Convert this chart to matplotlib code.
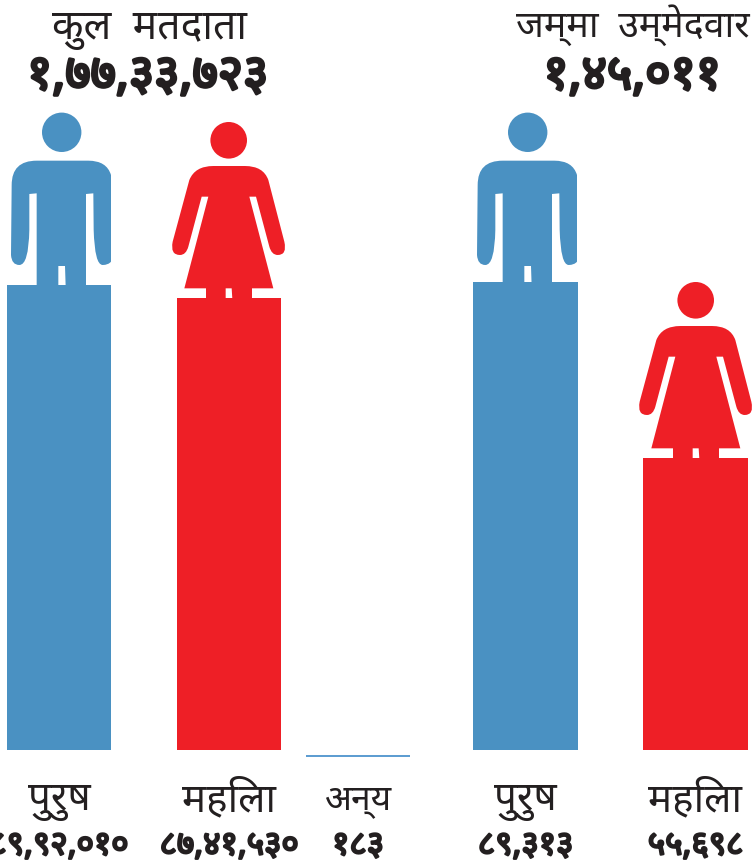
import matplotlib
matplotlib.use("Agg")
import matplotlib.pyplot as plt
import matplotlib.patheffects as pe
from matplotlib.patches import PathPatch, Circle
from matplotlib.path import Path

plt.rcParams['font.family'] = ['Noto Sans', 'DejaVu Sans']

# data
voter_labels = ["पुरुष", "महिला", "अन्य"]
voter_values = [8992010, 8741530, 183]
voter_text = ["८९,९२,०१०", "८७,४१,५३०", "१८३"]
candidate_labels = ["पुरुष", "महिला"]
candidate_values = [89313, 55698]
candidate_text = ["८९,३१३", "५५,६९८"]
voter_title = "कुल  मतदाता"
voter_total = "१,७७,३३,७२३"
candidate_title = "जम्मा  उम्मेदवार"
candidate_total = "१,४५,०११"

BLUE = "#4A91C2"
RED = "#EE1F26"
INK = "#231F20"
W, H = 754, 867
BASE = 750

# bar centres in pixels
voter_x = [59, 229, 358]
candidate_x = [525.5, 695.5]
colors = [BLUE, RED, BLUE]

fig = plt.figure(figsize=(W / 100, H / 100), dpi=100)

# left and right groups have their own y scale
ax1 = fig.add_axes([0, (H - BASE) / H, 1, BASE / H])
ax1.set_xlim(0, W)
ax1.set_ylim(0, voter_values[0] * BASE / 465)
ax1.bar(voter_x[:2], voter_values[:2], width=104, color=colors[:2])
ax1.axis("off")
ax2 = fig.add_axes([0, (H - BASE) / H, 1, BASE / H])
ax2.set_xlim(0, W)
ax2.set_ylim(0, candidate_values[0] * BASE / 468)
ax2.bar(candidate_x, candidate_values, width=105, color=colors[:2])
ax2.axis("off")

# overlay in pixel coords for icons and text
ov = fig.add_axes([0, 0, 1, 1])
ov.set_xlim(0, W)
ov.set_ylim(H, 0)
ov.axis("off")
ov.patch.set_alpha(0)

# the third bar is only a hairline, sitting a bit under the others
scale_other = ax1.get_ylim()[1] / BASE
ax1.bar(voter_x[2], voter_values[2], bottom=-6 * scale_other, width=104,
        color=colors[2], edgecolor="#5A9BD0", linewidth=1.4, clip_on=False)

M, L, C, X = Path.MOVETO, Path.LINETO, Path.CURVE3, Path.CLOSEPOLY


def build(steps, dx, dy):
    verts, codes = [], []
    for st in steps:
        if len(st) == 2:
            verts.append(st)
            codes.append(L)
        else:
            verts += [(st[0], st[1]), (st[2], st[3])]
            codes += [C, C]
    codes[0] = M
    verts.append(verts[0])
    codes.append(X)
    return Path([(x / 3 + dx, y / 3 + dy) for x, y in verts], codes)


man = [(110, 482), (35, 482, 35, 555), (33, 765), (35, 795, 58, 795),
       (86, 795, 88, 690), (88, 582), (110, 580), (110, 860), (175, 860),
       (175, 798), (195, 798), (197, 860), (258, 860), (258, 582), (280, 580),
       (281, 690), (284, 795, 308, 795), (325, 795, 333, 785), (333, 525),
       (320, 482, 265, 482)]
woman = [(640, 498), (585, 498, 568, 540), (518, 725), (510, 765, 540, 765),
         (558, 765, 565, 740), (605, 590), (625, 590), (553, 865), (618, 865),
         (618, 897), (677, 897), (677, 865), (695, 865), (697, 897), (756, 897),
         (756, 865), (820, 865), (748, 590), (768, 590), (808, 740),
         (815, 765, 833, 765), (862, 765, 853, 725), (805, 540),
         (790, 498, 735, 498)]


def draw_man(dx, dy=0):
    ov.add_patch(PathPatch(build(man, dx, dy), fc=BLUE, ec="none"))
    ov.add_patch(Circle((61.7 + dx, 132.3 + dy), 19.7, fc=BLUE, ec="none"))


def draw_woman(dx, dy=0):
    ov.add_patch(PathPatch(build(woman, dx, dy), fc=RED, ec="none"))
    ov.add_patch(Circle((228.7 + dx, 140.3 + dy), 18.3, fc=RED, ec="none"))


def heavy(width):
    # Noto Sans has no heavy cut here, so thicken the glyphs with a stroke
    return [pe.withStroke(linewidth=width, foreground=INK)]


draw_man(0)
draw_woman(0)
draw_man(466)
draw_woman(467, 160)

ov.text(150, 29, voter_title, ha="center", va="center", fontsize=29.5, color=INK)
ov.text(147.5, 76, voter_total, ha="center", va="center", fontsize=35,
        color=INK, path_effects=heavy(2.2))
ov.text(633, 25, candidate_title, ha="center", va="center", fontsize=27, color=INK)
ov.text(632, 76, candidate_total, ha="center", va="center", fontsize=35,
        color=INK, path_effects=heavy(2.2))

for x, lab, val in zip(voter_x + candidate_x, voter_labels + candidate_labels,
                       voter_text + candidate_text):
    size = 25.5 if lab == "अन्य" else 29
    ov.text(x, 801, lab, ha="center", va="center", fontsize=size, color=INK)
    ov.text(x, 846, val, ha="center", va="center", fontsize=24, color=INK,
            path_effects=heavy(1.6))

fig.savefig("out.png", dpi=100)
